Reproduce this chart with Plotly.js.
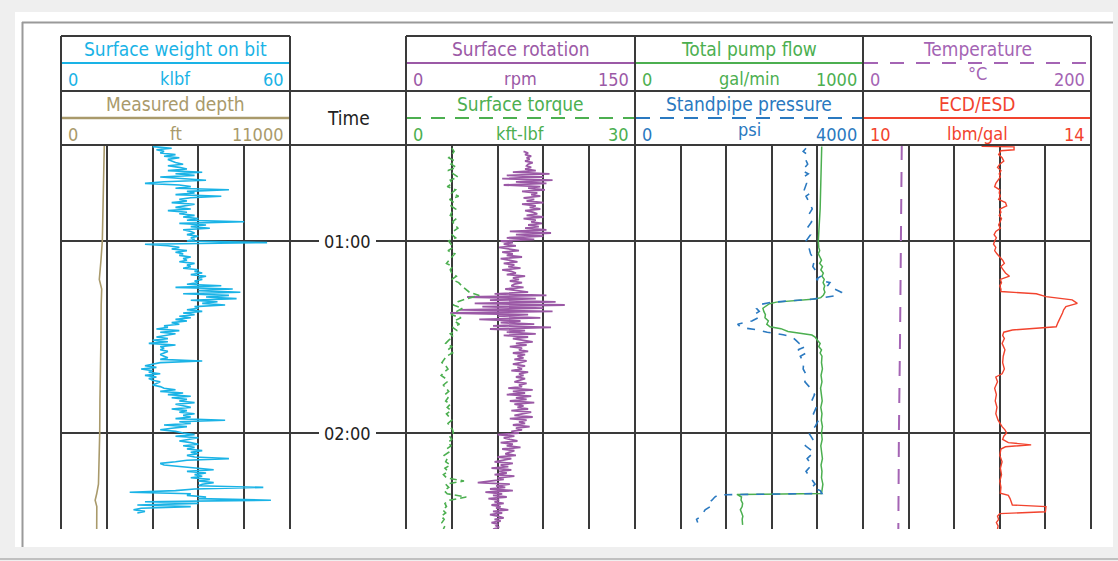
<!DOCTYPE html>
<html><head><meta charset="utf-8">
<script src="https://cdn.plot.ly/plotly-3.0.1.min.js"></script>
<style>html,body{margin:0;padding:0;background:#fff;} #chart{width:1118px;height:561px;}</style>
</head><body><div id="chart"></div>
<script>
// ---------- DATA (time in minutes after 00:00) ----------
const fineTime = [
 30.5,31,31.5,32,32.5,33,33.5,34,34.5,35,
 35.5,36,36.5,37,37.5,38,38.5,39,39.5,40,
 40.5,41,41.5,42,42.5,43,43.5,44,44.5,45,
 45.5,46,46.5,47,47.5,48,48.5,49,49.5,50,
 50.5,51,51.5,52,52.5,53,53.5,54,54.5,55,
 55.5,56,56.5,57,57.5,58,58.5,59,59.5,60,
 60.5,61,61.5,62,62.5,63,63.5,64,64.5,65,
 65.5,66,66.5,67,67.5,68,68.5,69,69.5,70,
 70.5,71,71.5,72,72.5,73,73.5,74,74.5,75,
 75.5,76,76.5,77,77.5,78,78.5,79,79.5,80,
 80.5,81,81.5,82,82.5,83,83.5,84,84.5,85,
 85.5,86,86.5,87,87.5,88,88.5,89,89.5,90,
 90.5,91,91.5,92,92.5,93,93.5,94,94.5,95,
 95.5,96,96.5,97,97.5,98,98.5,99,99.5,100,
 100.5,101,101.5,102,102.5,103,103.5,104,104.5,105,
 105.5,106,106.5,107,107.5,108,108.5,109,109.5,110,
 110.5,111,111.5,112,112.5,113,113.5,114,114.5,115,
 115.5,116,116.5,117,117.5,118,118.5,119,119.5,120,
 120.5,121,121.5,122,122.5,123,123.5,124,124.5,125,
 125.5,126,126.5,127,127.5,128,128.5,129,129.5,130,
 130.5,131,131.5,132,132.5,133,133.5,134,134.5,135,
 135.5,136,136.5,137,137.5,138,138.5,139,139.5,140,
 140.5,141,141.5,142,142.5,143,143.5,144,144.5,145,
 145.5,146,146.5,147,147.5,148,148.5,149,149.5,150
];

// Surface weight on bit, klbf (30.5 .. 145 min)
const wob = [
 24,29,25,27,26,30,27,31,28,29,
 30,32,28,31,33,28,37,30,35,26,
 33,38,27,22,31,34,30,44,33,35,
 30,42,34,31,33,29,35,32,30,34,
 28,33,31,35,32,36,33,48,31,38,
 34,39,32,34,35,33,36,34,35,33,
 54,22,28,31,29,33,30,32,31,34,
 32,33,31,35,33,34,32,36,35,37,
 34,38,36,37,35,36,33,42,30,45,
 36,47,32,44,38,46,34,41,37,43,
 35,36,33,37,32,35,31,34,30,33,
 29,31,27,28,25,31,26,30,27,25,
 28,24,28,23,30,26,27,26,28,27,
 26,27,28,26,37,26,24,22,25,21,
 24,23,26,22,25,23,24,26,25,24,
 26,27,30,26,32,28,34,29,33,31,
 35,30,32,34,29,33,31,35,32,34,
 30,43,31,34,27,33,29,26,30,32,
 35,30,36,33,31,34,36,32,35,33,
 37,34,36,33,35,44,33,30,26,27,
 31,36,40,33,38,35,37,34,39,36,
 40,37,36,53,35,30,18,34,33,38,
 36,55,22,36,20,34,21,19,22,20
];

// Surface rotation, rpm (32 .. 150 min)
const rpm = [
 77,80,78,82,79,81,78,83,80,79,
 82,78,85,70,94,66,90,63,96,72,
 92,64,88,80,91,76,86,82,88,77,
 84,79,90,76,85,81,88,78,83,86,
 79,90,77,85,82,89,80,87,78,92,
 68,95,72,90,66,84,62,70,64,72,
 61,68,74,63,70,66,76,62,69,73,
 64,71,67,75,63,69,72,66,78,70,
 74,68,76,71,69,77,65,72,80,58,
 92,40,85,55,98,45,104,50,90,35,
 96,29,80,60,88,48,75,62,84,57,
 95,55,78,66,85,64,80,70,76,83,
 72,79,68,76,74,80,70,78,73,77,
 71,79,75,70,78,73,76,69,80,74,
 77,72,78,75,71,79,74,76,67,83,
 70,78,66,82,72,79,68,84,71,77,
 73,80,69,82,75,71,83,68,79,74,
 78,70,81,72,76,69,74,60,71,64,
 68,73,62,70,66,75,63,71,68,65,
 72,60,69,64,58,70,62,67,56,69,
 61,66,58,71,60,64,57,47,68,59,
 65,55,70,52,63,57,66,54,61,58,
 64,56,62,59,67,57,63,55,60,64,
 58,62,56,60,59,61,57
];

// Measured depth, ft
const depthTime = [30, 40, 50, 60, 66, 72, 75, 80, 90, 100, 110, 120, 130, 136, 139, 141, 143, 150];
const depth     = [2080, 2060, 2020, 1985, 1920, 1840, 1955, 1930, 1920, 1880, 1870, 1860, 1840, 1800, 1715, 1640, 1720, 1715];

// Surface torque, kft-lbf (31 .. 150 min, 1-min samples)
const torqueTime = [
 31,32,33,34,35,36,37,38,39,40,41,
 42,43,44,45,46,47,48,49,50,51,
 52,53,54,55,56,57,58,59,60,61,
 62,63,64,65,66,67,68,69,70,71,
 72,73,74,75,76,77,78,79,80,81,
 82,83,84,85,86,87,88,89,90,91,
 92,93,94,95,96,97,98,99,100,101,
 102,103,104,105,106,107,108,109,110,111,
 112,113,114,115,116,117,118,119,120,121,
 122,123,124,125,126,127,128,129,130,131,
 132,133,134,135,136,137,138,139,140,141,
 142,143,144,145,146,147,148,149,150
];
const torque = [
 6.0,6.3,6.0,5.6,6.4,5.9,6.6,5.5,6.2,6.8,5.8,
 6.1,5.4,6.5,6.0,6.9,5.7,6.3,5.9,6.5,6.0,
 5.8,6.6,6.1,6.4,6.8,6.2,6.0,6.5,5.6,5.9,
 6.2,5.5,6.4,6.0,5.7,5.3,6.1,5.8,6.0,6.6,
 6.0,6.9,7.3,7.8,8.3,9.6,8.0,6.8,6.2,7.4,
 6.6,5.9,7.2,6.3,7.0,6.1,6.7,5.8,6.2,5.6,
 5.2,6.0,5.5,6.1,5.3,5.0,4.7,5.2,5.5,5.0,
 4.6,5.2,5.4,4.9,5.3,5.6,5.1,5.5,5.2,5.8,
 5.4,5.9,5.3,5.6,6.0,5.5,5.8,6.1,6.2,5.7,
 6.0,5.5,5.9,5.3,5.6,5.0,5.4,5.2,5.8,5.1,
 5.5,4.9,5.3,7.6,5.2,5.6,5.0,5.4,7.9,5.7,
 5.1,5.3,4.8,5.2,4.6,5.0,4.7,5.1,4.9
];

// Total pump flow, gal/min
const flowTime = [
 30.5,35,40,45,50,55,60,62,63,64,65,66,67,68,69,70,71,72,73,74,75,76,77,
 77.7,78.1,78.6,79.1,79.6,80.5,81,82,83,84,85,86,86.8,87.4,88.3,89.4,
 90,91,92,93,94,95,96,98,100,102,104,106,108,110,112,114,116,118,120,
 122,124,126,128,130,132,134,136,138,138.9,139.2,139.6,140,141,142,143,
 144,145,146,147,148.7
];
const flow = [
 819,818,816,814,812,808,804,806,810,804,812,818,810,822,815,826,820,830,825,832,828,833,826,
 815,790,700,620,590,567,561,565,572,570,585,578,592,640,671,776,
 790,800,812,806,818,812,820,818,822,816,820,814,818,821,815,820,817,822,818,
 821,815,819,822,816,820,818,824,820,818,447,460,467,465,472,470,
 462,468,473,470,472
];

// Standpipe pressure, psi
const pressureTime = [
 31,32,33,34,36,38,39,40,42,44,45,46,48,50,52,54,56,58,60,62,64,66,68,70,
 71,72,73,74,75,76,77,77.7,78.2,78.7,79.3,80,81,82,83,84,85,86,87,87.8,
 88.5,89.3,90,91,92,93,94,95,96,98,100,102,104,106,108,110,112,114,116,
 118,120,122,124,126,128,130,132,134,136,137,138,138.9,139.3,140,141,142,
 143,144,145,146,147,148
];
const pressure = [
 3000,2950,3020,2980,3030,2930,3040,2960,3010,2970,3080,3000,3060,3110,3040,3100,3020,3080,3000,3050,3080,3150,3120,3200,
 3260,3180,3420,3380,3500,3620,3560,3250,3100,2700,2350,2150,2130,2180,2090,2160,2050,1800,1860,2150,
 2320,2600,2760,2820,2880,2990,2860,3000,2900,2960,2950,3010,2980,3080,3150,3100,3180,3130,3220,
 3160,3050,3120,2990,3140,3020,3100,3000,3080,3160,3100,3250,3280,1460,1400,1350,1280,
 1320,1230,1200,1160,1080,1100
];

// Temperature, degC
const tempTime = [30, 60, 90, 120, 150];
const temperature = [34, 33.5, 32.5, 31.5, 31];

// ECD/ESD, lbm/gal
const ecdTime = [
 30.4,30.6,31.5,31.8,33,34,35,36,37,38,39,40,41,42,43,44,45,46,47,48,49,50,51,52,53,54,
 55,56,57,58,59,60,61,62,63,64,65,66,67,68,69,70,71,72,73,74,75,75.8,76.5,77.4,78.4,79.5,
 80.5,81.5,82.5,83.5,84.5,85.5,86.8,87.3,87.8,88.5,89.5,90.5,92,94,96,98,100,101.5,102.5,
 104,106,108,110,112,114,116,117,118,119,120,121,122,123,123.7,124.3,125,127,129,131,133,
 135,137,138.8,139.5,140.5,141.5,142.5,143,144,144.6,145.2,146,147,148,149,150
];
const ecd = [
 12.08,12.65,12.65,12.42,12.38,12.44,12.47,12.40,12.36,12.42,12.39,12.41,12.37,12.33,12.31,12.40,12.39,12.41,12.38,12.50,12.52,12.40,12.42,12.39,12.43,12.40,
 12.38,12.41,12.33,12.30,12.34,12.31,12.29,12.33,12.31,12.35,12.40,12.45,12.48,12.42,12.46,12.50,12.57,12.41,12.43,12.40,12.42,12.42,13.04,13.21,13.67,13.76,
 13.56,13.52,13.50,13.47,13.45,13.42,13.39,12.97,12.62,12.47,12.45,12.48,12.44,12.49,12.46,12.45,12.48,12.44,12.33,
 12.36,12.31,12.34,12.32,12.35,12.33,12.37,12.40,12.44,12.49,12.52,12.47,12.45,12.55,12.95,12.50,12.42,12.40,12.44,12.41,12.43,
 12.40,12.42,12.41,12.55,12.58,12.60,12.62,13.21,13.21,13.20,12.40,12.36,12.38,12.34,12.37,12.36
];

// Axis scales and labels
const wobRange = [0, 60], depthRange = [0, 11000];
const rpmRange = [0, 150], torqueRange = [0, 30];
const flowRange = [0, 1000], pressureRange = [0, 4000];
const tempRange = [0, 200], ecdRange = [10, 14];
const timeRange = [150, 30];
const timeTicks = [60, 120];
const timeLabels = ['01:00', '02:00'];

// ---------- LAYOUT ----------
const W = 1118, H = 561;
const px = v => v / W, py = v => 1 - v / H;
const FONT = "'Liberation Sans Narrow', 'Arial Narrow', 'DejaVu Sans Condensed', 'Roboto Condensed', sans-serif";
const C = {wob:'#1ab3e6', depth:'#a99a6b', rpm:'#9b59a6', torque:'#4caf50', flow:'#4caf50',
           pressure:'#2a79c0', temp:'#a464b4', ecd:'#f2432e', grid:'#3a3a3a', frame:'#9a9a9a'};

const X = {t1:[61,290], time:[290,406], t2:[406,635], t3:[635,863], t4:[863,1091]};
const PLOT_TOP = 145, PLOT_BOT = 529, HEAD_TOP = 36, ROW2_TOP = 91;
const dom = a => [px(a[0]), px(a[1])];

function mainAxis(d, range, dtick) {
  return {domain: dom(d), range: range, anchor: 'y', showgrid: true, dtick: dtick, tick0: range[0],
          gridcolor: C.grid, gridwidth: 2, showticklabels: false, ticks: '', zeroline: false,
          showline: false, fixedrange: true};
}
function overAxis(d, range, over) {
  return {domain: dom(d), range: range, anchor: 'y', overlaying: over, visible: false, fixedrange: true};
}

const traces = [
  {x: depth, y: depthTime, xaxis: 'x2', yaxis: 'y', mode: 'lines', line: {color: C.depth, width: 1.6}},
  {x: wob, y: fineTime.slice(0, wob.length), xaxis: 'x', yaxis: 'y', mode: 'lines', line: {color: C.wob, width: 1.6}},
  {x: rpm, y: fineTime.slice(fineTime.length - rpm.length), xaxis: 'x3', yaxis: 'y', mode: 'lines', line: {color: C.rpm, width: 1.8}},
  {x: torque, y: torqueTime, xaxis: 'x4', yaxis: 'y', mode: 'lines', line: {color: C.torque, width: 1.6, dash: '7px,4px'}},
  {x: flow, y: flowTime, xaxis: 'x5', yaxis: 'y', mode: 'lines', line: {color: C.flow, width: 1.5}},
  {x: pressure, y: pressureTime, xaxis: 'x6', yaxis: 'y', mode: 'lines', line: {color: C.pressure, width: 1.6, dash: '8px,8px'}},
  {x: temperature, y: tempTime, xaxis: 'x7', yaxis: 'y', mode: 'lines', line: {color: C.temp, width: 2, dash: '15px,12px'}},
  {x: ecd, y: ecdTime, xaxis: 'x8', yaxis: 'y', mode: 'lines', line: {color: C.ecd, width: 1.4}}
];

const shapes = [];
const annotations = [];
function hline(x0, x1, y, color, width, dash) {
  shapes.push({type:'line', xref:'paper', yref:'paper', x0:px(x0), x1:px(x1), y0:py(y), y1:py(y),
               line:{color:color, width:width, dash:dash || 'solid'}});
}
function vline(x, y0, y1, color, width) {
  shapes.push({type:'line', xref:'paper', yref:'paper', x0:px(x), x1:px(x), y0:py(y0), y1:py(y1),
               line:{color:color, width:width}});
}
function text(str, x, y, color, size, xanchor) {
  annotations.push({text:str, xref:'paper', yref:'paper', x:px(x), y:py(y), showarrow:false,
                    xanchor:xanchor || 'center', yanchor:'middle', font:{family:FONT, size:size, color:color}});
}

// page frame
shapes.push({type:'rect', xref:'paper', yref:'paper', x0:px(7), x1:1, y0:0, y1:py(4), fillcolor:'#efefef', line:{width:0}, layer:'below'});
shapes.push({type:'rect', xref:'paper', yref:'paper', x0:px(15), x1:px(1113), y0:py(547), y1:py(12), fillcolor:'#ffffff', line:{width:0}, layer:'below'});
hline(22, 1113, 22.5, C.frame, 2);
vline(22.5, 22, 547, C.frame, 2);
hline(0, W, 559, '#b0b0b0', 1.5);

// header cells
const headerCells = [
  {d:X.t1, row:0, title:'Surface weight on bit', color:C.wob, range:wobRange, unit:'klbf', dash:'solid'},
  {d:X.t1, row:1, title:'Measured depth', color:C.depth, range:depthRange, unit:'ft', dash:'solid', lw:2.5},
  {d:X.t2, row:0, title:'Surface rotation', color:C.rpm, range:rpmRange, unit:'rpm', dash:'solid'},
  {d:X.t2, row:1, title:'Surface torque', color:C.torque, range:torqueRange, unit:'kft-lbf', dash:'14px,10px'},
  {d:X.t3, row:0, title:'Total pump flow', color:C.flow, range:flowRange, unit:'gal/min', dash:'solid'},
  {d:X.t3, row:1, title:'Standpipe pressure', color:C.pressure, range:pressureRange, unit:'psi', dash:'14px,10px', unitDy:-3},
  {d:X.t4, row:0, title:'Temperature', color:C.temp, range:tempRange, unit:'°C', dash:'14px,12px', unitDy:-5},
  {d:X.t4, row:1, title:'ECD/ESD', color:C.ecd, range:ecdRange, unit:'lbm/gal', dash:'solid'}
];
headerCells.forEach(c => {
  const top = c.row === 0 ? HEAD_TOP : ROW2_TOP;
  const mid = (c.d[0] + c.d[1]) / 2;
  text(c.title, mid, top + 13, c.color, 19);
  hline(c.d[0] + 1, c.d[1] - 1, top + 27, c.color, c.lw || 2, c.dash);
  text(String(c.range[0]), c.d[0] + 5, top + 43, c.color, 18, 'left');
  text(c.unit, mid, top + 42 + (c.unitDy || 0), c.color, 18);
  text(String(c.range[1]), c.d[1] - 4, top + 43, c.color, 18, 'right');
});

// header and track borders
hline(X.t1[0], X.t1[1], HEAD_TOP, C.grid, 2);
hline(X.t2[0], X.t4[1], HEAD_TOP, C.grid, 2);
hline(X.t1[0], X.t4[1], ROW2_TOP, C.grid, 2);
hline(X.t1[0], X.t4[1], PLOT_TOP, C.grid, 2);
[X.t1[0], X.t1[1], X.t2[0], X.t3[0], X.t4[0], X.t4[1]].forEach(x => vline(x, HEAD_TOP, PLOT_BOT, C.grid, 2));
text('Time', (X.time[0] + X.time[1]) / 2, 118, '#222', 19);

// time labels in the time column
timeTicks.forEach((t, i) => {
  shapes.push({type:'line', xref:'paper', yref:'y', x0:px(X.time[0]), x1:px(319), y0:t, y1:t, line:{color:C.grid, width:2}});
  shapes.push({type:'line', xref:'paper', yref:'y', x0:px(376), x1:px(X.time[1]), y0:t, y1:t, line:{color:C.grid, width:2}});
  annotations.push({text:timeLabels[i], xref:'paper', yref:'y', x:px(347.5), y:t, showarrow:false,
                    xanchor:'center', yanchor:'middle', font:{family:FONT, size:18, color:'#222'}});
});

const layout = {
  width: W, height: H, margin: {l:0, r:0, t:0, b:0, pad:0},
  paper_bgcolor: '#efefef', plot_bgcolor: 'rgba(0,0,0,0)', showlegend: false,
  xaxis: mainAxis(X.t1, wobRange, 12),
  xaxis2: overAxis(X.t1, depthRange, 'x'),
  xaxis3: mainAxis(X.t2, rpmRange, 30),
  xaxis4: overAxis(X.t2, torqueRange, 'x3'),
  xaxis5: mainAxis(X.t3, flowRange, 200),
  xaxis6: overAxis(X.t3, pressureRange, 'x5'),
  xaxis7: mainAxis(X.t4, tempRange, 40),
  xaxis8: overAxis(X.t4, ecdRange, 'x7'),
  yaxis: {domain: [py(PLOT_BOT), py(PLOT_TOP)], range: timeRange, tickvals: timeTicks, showgrid: true,
          gridcolor: C.grid, gridwidth: 2, showticklabels: false, ticks: '', zeroline: false, showline: false, fixedrange: true},
  shapes: shapes, annotations: annotations
};

Plotly.newPlot('chart', traces, layout, {staticPlot: true, displayModeBar: false});
</script></body></html>
